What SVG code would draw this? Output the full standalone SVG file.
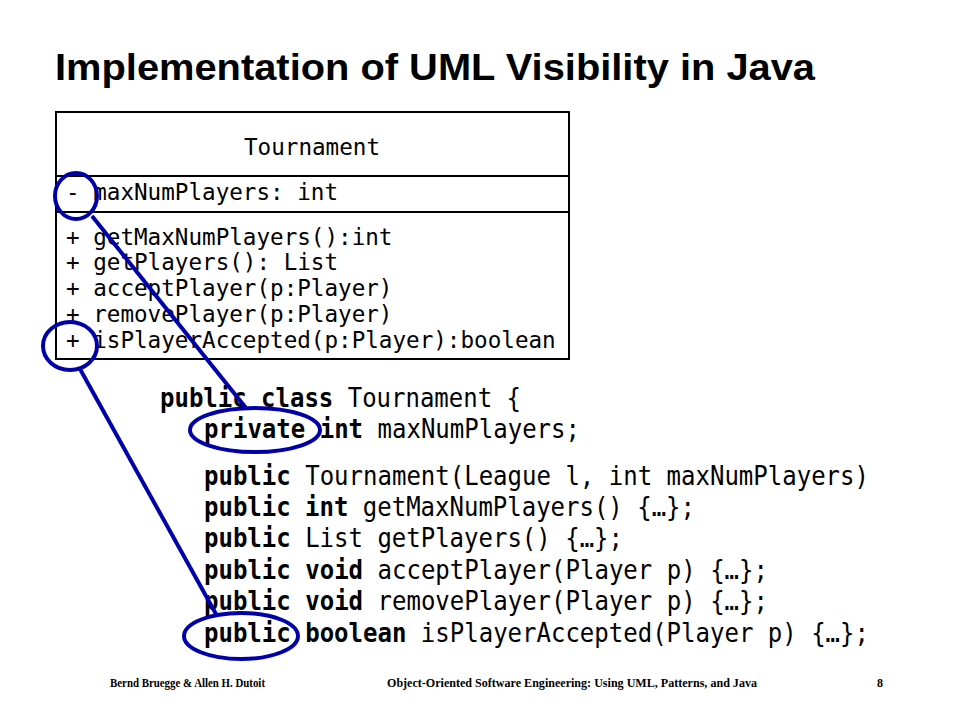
<svg xmlns="http://www.w3.org/2000/svg" width="960" height="720" viewBox="0 0 960 720">
<style>
.title{font-family:"Liberation Sans",Arial,sans-serif;font-weight:bold;font-size:36px;fill:#000}
.uml{font-family:"DejaVu Sans Mono",monospace;font-size:22.6px;fill:#000}
.code{font-family:"DejaVu Sans Mono",monospace;font-size:26.5px;fill:#000}
.b{font-weight:bold}
.foot{font-family:"Liberation Serif","Times New Roman",serif;font-size:12px;font-weight:bold;fill:#000}
.hl{fill:none;stroke:#0000a8;stroke-width:4}
.box{fill:#fff;stroke:#000;stroke-width:2}
</style>
<rect width="960" height="720" fill="#fff"/>
<text class="title" x="55" y="80" textLength="760" lengthAdjust="spacingAndGlyphs">Implementation of UML Visibility in Java</text>
<g id="tournament-class">
<rect class="box" x="56" y="112" width="513" height="247"/>
<line x1="56" y1="176" x2="569" y2="176" stroke="#000" stroke-width="2"/>
<line x1="56" y1="212" x2="569" y2="212" stroke="#000" stroke-width="2"/>
<text class="uml" x="312" y="155" text-anchor="middle">Tournament</text>
<text class="uml" x="66" y="200">- maxNumPlayers: int</text>
<text class="uml" x="66" y="245">+ getMaxNumPlayers():int</text>
<text class="uml" x="66" y="270">+ getPlayers(): List</text>
<text class="uml" x="66" y="296">+ acceptPlayer(p:Player)</text>
<text class="uml" x="66" y="322">+ removePlayer(p:Player)</text>
<text class="uml" x="66" y="348">+ isPlayerAccepted(p:Player):boolean</text>
</g>
<g id="java-code">
<text class="code" x="160" y="407" textLength="361" lengthAdjust="spacingAndGlyphs"><tspan class="b">public class</tspan> Tournament {</text>
<text class="code" x="204" y="438" textLength="376" lengthAdjust="spacingAndGlyphs"><tspan class="b">private int</tspan> maxNumPlayers;</text>
<text class="code" x="204" y="485" textLength="665" lengthAdjust="spacingAndGlyphs"><tspan class="b">public</tspan> Tournament(League l, int maxNumPlayers)</text>
<text class="code" x="204" y="516" textLength="491" lengthAdjust="spacingAndGlyphs"><tspan class="b">public int</tspan> getMaxNumPlayers() {…};</text>
<text class="code" x="204" y="547" textLength="419" lengthAdjust="spacingAndGlyphs"><tspan class="b">public</tspan> List getPlayers() {…};</text>
<text class="code" x="204" y="579" textLength="564" lengthAdjust="spacingAndGlyphs"><tspan class="b">public void</tspan> acceptPlayer(Player p) {…};</text>
<text class="code" x="204" y="610" textLength="564" lengthAdjust="spacingAndGlyphs"><tspan class="b">public void</tspan> removePlayer(Player p) {…};</text>
<text class="code" x="204" y="642" textLength="665" lengthAdjust="spacingAndGlyphs"><tspan class="b">public boolean</tspan> isPlayerAccepted(Player p) {…};</text>
</g>
<g id="highlights">
<ellipse class="hl" cx="76" cy="196" rx="21" ry="23"/>
<ellipse class="hl" cx="70" cy="346" rx="27" ry="24"/>
<ellipse class="hl" cx="255" cy="430" rx="65" ry="22"/>
<ellipse class="hl" cx="241" cy="636" rx="57" ry="23"/>
</g>
<g id="connectors">
<line class="hl" x1="92" y1="216" x2="246" y2="408"/>
<line class="hl" x1="80" y1="369" x2="216" y2="614"/>
</g>
<g id="footer">
<text class="foot" x="110" y="687" textLength="155" lengthAdjust="spacingAndGlyphs">Bernd Bruegge &amp; Allen H. Dutoit</text>
<text class="foot" x="387" y="687" textLength="370" lengthAdjust="spacingAndGlyphs">Object-Oriented  Software Engineering: Using UML, Patterns, and Java</text>
<text class="foot" x="877" y="687">8</text>
</g>
</svg>
